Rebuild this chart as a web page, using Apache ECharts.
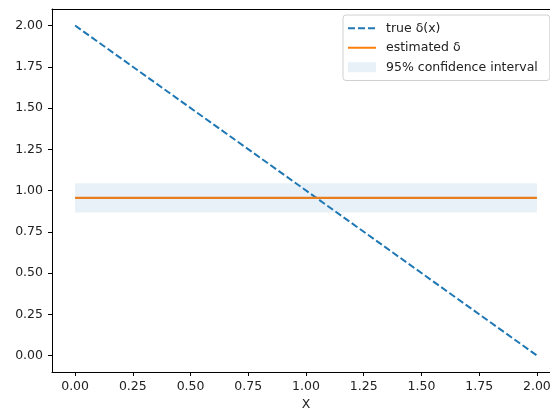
<!DOCTYPE html>
<html>
<head>
<meta charset="utf-8">
<script src="https://cdn.jsdelivr.net/npm/echarts@6/dist/echarts.min.js"></script>
<style>html,body{margin:0;padding:0;background:#fff;overflow:hidden}#c{width:550px;height:410px}</style>
</head>
<body>
<div id="c"></div>
<script>
// Data
const xPoints = [0, 2];
const trueDelta = [2, 0];
const estimatedDelta = [0.955, 0.955];
const ciLower = 0.867;
const ciUpper = 1.044;
const tickValues = [0, 0.25, 0.5, 0.75, 1.0, 1.25, 1.5, 1.75, 2.0];
const seriesNames = ['true δ(x)', 'estimated δ', '95% confidence interval'];

const FONT = 'DejaVu Sans';
const chart = echarts.init(document.getElementById('c'), null, {renderer: 'canvas'});

const axisCommon = {
  type: 'value', min: -0.1, max: 2.1,
  axisLine: {show: true, onZero: false, lineStyle: {color: '#000', width: 1}},
  axisTick: {show: true, length: 4, lineStyle: {color: '#000'}, customValues: tickValues},
  axisLabel: {customValues: tickValues, color: '#222', fontFamily: FONT, fontSize: 12.5,
    formatter: v => v.toFixed(2)},
  splitLine: {show: false}
};

chart.setOption({
  animation: false,
  grid: {left: 52, top: 9, right: -10, bottom: 38, show: false,
    containLabel: false, outerBoundsMode: 'none'},
  xAxis: [
    Object.assign({}, axisCommon, {
      name: 'X', nameLocation: 'middle', nameGap: 20,
      nameTextStyle: {color: '#222', fontFamily: FONT, fontSize: 12.5},
      axisLabel: Object.assign({}, axisCommon.axisLabel, {margin: 8})
    }),
    {type: 'value', min: -0.1, max: 2.1, position: 'top',
      axisLine: {show: true, onZero: false, lineStyle: {color: '#000', width: 1}},
      axisTick: {show: false}, axisLabel: {show: false}, splitLine: {show: false}}
  ],
  yAxis: Object.assign({}, axisCommon, {
    axisLabel: Object.assign({}, axisCommon.axisLabel, {margin: 9})
  }),
  legend: {
    orient: 'vertical', left: 343, top: 15,
    padding: [6, 12, 6, 4],
    itemWidth: 28, itemHeight: 10, itemGap: 5,
    backgroundColor: 'rgba(255,255,255,0.8)', borderColor: '#d0d0d0', borderWidth: 1, borderRadius: 3,
    textStyle: {color: '#222', fontFamily: FONT, fontSize: 12.5, lineHeight: 14.5, padding: [0, 0, 0, 5]},
    data: [
      {name: seriesNames[0], itemStyle: {opacity: 0}},
      {name: seriesNames[1], itemStyle: {opacity: 0}},
      {name: seriesNames[2], icon: 'rect', itemStyle: {color: 'rgba(31,119,180,0.1)'}}
    ]
  },
  series: [
    {
      name: seriesNames[0], type: 'line', symbol: 'none',
      data: xPoints.map((x, i) => [x, trueDelta[i]]),
      lineStyle: {color: '#1f77b4', width: 2, type: [7, 3]}, itemStyle: {color: '#1f77b4'}, z: 3
    },
    {
      name: seriesNames[1], type: 'line', symbol: 'none',
      data: xPoints.map((x, i) => [x, estimatedDelta[i]]),
      lineStyle: {color: '#ff7f0e', width: 2.2}, itemStyle: {color: '#ff7f0e'}, z: 4
    },
    {
      name: seriesNames[2], type: 'custom',
      itemStyle: {color: 'rgba(31,119,180,0.1)'},
      data: [[xPoints[0], xPoints[xPoints.length - 1], ciLower, ciUpper]],
      renderItem: function (params, api) {
        const p0 = api.coord([api.value(0), api.value(3)]);
        const p1 = api.coord([api.value(1), api.value(2)]);
        return {type: 'rect', shape: {x: p0[0], y: p0[1], width: p1[0] - p0[0], height: p1[1] - p0[1]},
          style: {fill: 'rgba(31,119,180,0.1)'}};
      },
      z: 5
    }
  ]
});
</script>
</body>
</html>
